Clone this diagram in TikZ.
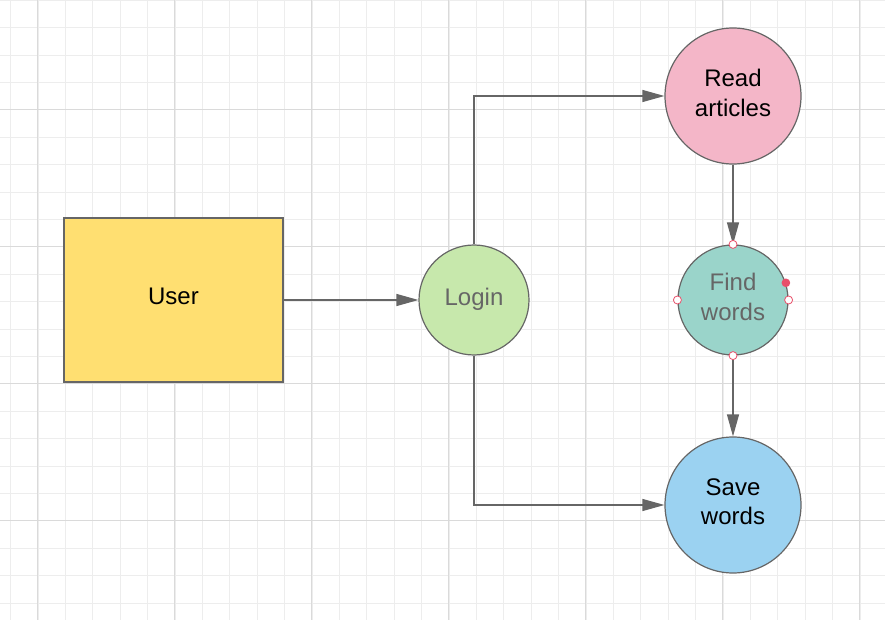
\documentclass[tikz,border=0pt]{standalone}
\usepackage{fontspec}
\setmainfont{Liberation Sans}
\usetikzlibrary{arrows.meta}
\definecolor{gridminor}{HTML}{EDEDED}
\definecolor{gridmajor}{HTML}{DADADA}
\definecolor{edge}{HTML}{666666}
\definecolor{userfill}{HTML}{FFDF71}
\definecolor{loginfill}{HTML}{C7E8AC}
\definecolor{readfill}{HTML}{F4B6C8}
\definecolor{findfill}{HTML}{9AD4CA}
\definecolor{savefill}{HTML}{9BD2F1}
\definecolor{handle}{HTML}{E8506A}
\tikzset{
  shape box/.style={draw=edge,line width=0.9pt,minimum width=219*0.75pt,minimum height=164*0.75pt,inner sep=0pt,text depth=5pt},
  small bubble/.style={circle,draw=edge,line width=0.9pt,minimum size=110*0.75pt,inner sep=0pt,align=center,text=edge,text depth=5pt},
  big bubble/.style={circle,draw=edge,line width=0.9pt,minimum size=136*0.75pt,inner sep=0pt,align=center,text depth=5pt},
  flow/.style={draw=edge,line width=0.9pt,-{Triangle[length=16.5pt,width=9pt]}},
  grip/.style={circle,draw=handle,fill=white,line width=0.6pt,minimum size=6pt,inner sep=0pt},
}
\begin{document}
\begin{tikzpicture}[x=0.75pt,y=-0.75pt,font=\fontsize{18}{22}\selectfont]
\useasboundingbox (0,0) rectangle (885,620);
% grid
\foreach \gx in {0,...,32}
  \draw[gridminor,line width=0.75pt] ({10.7+27.4*\gx},0) -- ({10.7+27.4*\gx},620);
\foreach \gy in {0,...,22}
  \draw[gridminor,line width=0.75pt] (0,{0.3+27.4*\gy}) -- (885,{0.3+27.4*\gy});
\foreach \gx in {0,...,6}
  \draw[gridmajor,line width=0.75pt] ({37.3+137*\gx},0) -- ({37.3+137*\gx},620);
\foreach \gy in {0,...,3}
  \draw[gridmajor,line width=0.75pt] (0,{109.3+137*\gy}) -- (885,{109.3+137*\gy});

% shapes
\node[shape box,fill=userfill] (user) at (173.5,300) {User};
\node[small bubble,fill=loginfill] (login) at (474,300) {Login};
\node[big bubble,fill=readfill] (read) at (733,96) {Read\\articles};
\node[small bubble,fill=findfill] (find) at (733,300) {Find\\words};
\node[big bubble,fill=savefill] (save) at (733,505) {Save\\words};

% connectors
\draw[flow] (user.east) -- (login.west);
\draw[flow] (login.north) |- (read.west);
\draw[flow] (login.south) |- (save.west);
\draw[flow] (read.south) -- (find.north);
\draw[flow] (find.south) -- (save.north);

% selection handles
\node[grip] (gn) at (find.north) {};
\node[grip] (gs) at (find.south) {};
\node[grip] (gw) at (find.west) {};
\node[grip] (ge) at (find.east) {};
\node[circle,fill=handle,minimum size=6.5pt,inner sep=0pt] (gr) at (find.18) {};
\end{tikzpicture}
\end{document}
